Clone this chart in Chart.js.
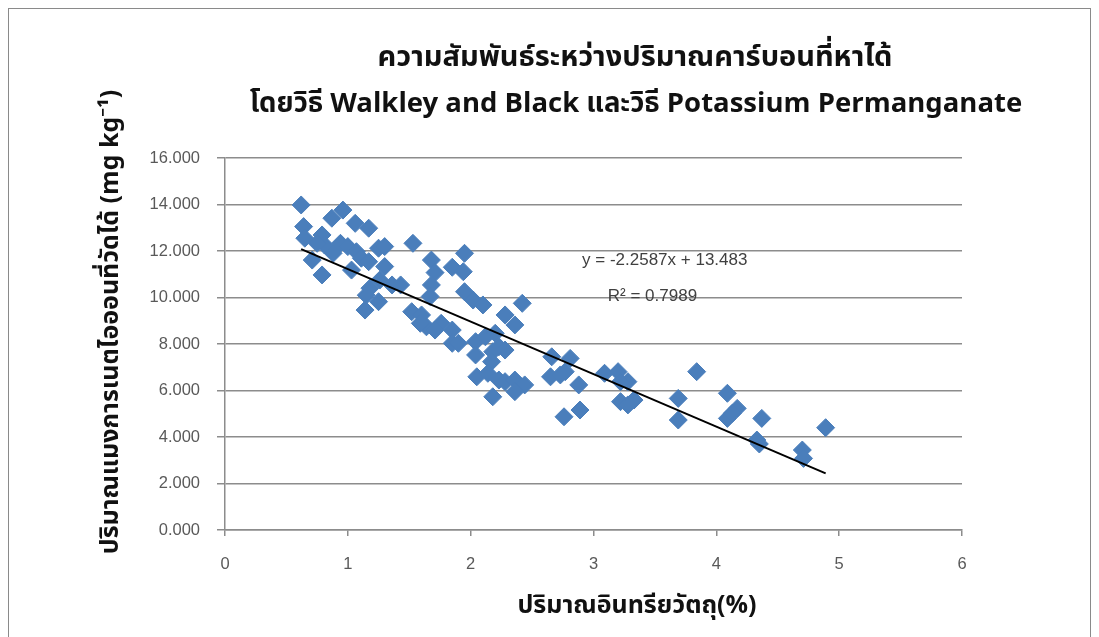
<!DOCTYPE html>
<html>
<head>
<meta charset="utf-8">
<title>Walkley and Black vs Potassium Permanganate</title>
<script src="https://cdn.jsdelivr.net/npm/chart.js@4.4.1/dist/chart.umd.min.js"></script>
<style>
  html, body { margin: 0; padding: 0; background: #ffffff; overflow: hidden; }
  #wrap { position: relative; width: 1099px; height: 637px; }
  #frame { position: absolute; left: 8px; top: 8px; width: 1083px; height: 660px;
           border: 1px solid #8a8a8a; box-sizing: border-box; }
  #chart { position: absolute; left: 0; top: 0; }
</style>
</head>
<body>
<div id="wrap">
  <div id="frame"></div>
  <canvas id="chart" width="1099" height="637"></canvas>
</div>
<script>
// Organic matter (%) of each soil sample
const organicMatter = [
  0.62, 0.96, 0.87, 1.06, 1.17, 0.64, 0.65, 0.79, 0.81, 0.75,
  0.94, 1.00, 0.88, 0.71, 0.79, 1.07, 1.11, 1.25, 1.30, 1.17,
  1.03, 1.30, 1.26, 1.18, 1.36, 1.15, 1.25, 1.14, 1.53, 1.95,
  1.68, 1.85, 1.94, 1.71, 1.43, 1.68, 1.67, 1.95, 2.02, 2.10,
  2.28, 1.52, 1.60, 1.64, 1.59, 1.76, 1.71, 1.85, 1.85, 1.90,
  2.04, 2.12, 2.20, 2.23, 2.04, 2.28, 2.42, 2.36, 2.18, 2.17,
  2.05, 2.14, 2.23, 2.28, 2.36, 2.44, 2.36, 2.18, 2.66, 2.65,
  2.77, 2.76, 2.81, 2.73, 2.88, 3.09, 3.20, 3.28, 3.22, 3.84,
  3.22, 3.28, 3.33, 3.69, 3.69, 2.89, 4.09, 4.17, 4.09, 4.13,
  4.37, 4.33, 4.35, 4.70, 4.71, 4.89
];

// Permanganate-oxidizable carbon measured for the same samples (mg kg-1)
const permanganateCarbon = [
  13.98, 13.76, 13.41, 13.19, 12.98, 13.05, 12.55, 12.69, 12.26, 12.33,
  12.33, 12.19, 11.90, 11.61, 10.97, 11.97, 11.69, 12.12, 12.19, 11.54,
  11.18, 11.33, 10.75, 10.40, 10.54, 10.10, 9.82, 9.46, 12.33, 11.90,
  11.61, 11.30, 11.11, 11.07, 10.54, 10.54, 10.04, 10.25, 9.89, 9.68,
  9.25, 9.39, 9.25, 8.74, 8.89, 8.89, 8.60, 8.60, 8.03, 8.03,
  8.10, 8.31, 8.46, 7.88, 7.53, 7.74, 9.75, 8.82, 7.67, 7.24,
  6.59, 6.74, 6.45, 6.38, 6.45, 6.24, 5.95, 5.73, 7.45, 6.59,
  6.81, 4.87, 7.38, 6.67, 6.24, 6.74, 6.81, 6.38, 6.38, 6.81,
  5.52, 5.38, 5.59, 5.66, 4.73, 5.16, 5.88, 5.23, 4.80, 5.02,
  4.80, 3.87, 3.70, 3.44, 3.08, 4.40
];

// Linear trend reported for the relationship
const trendSlope = -2.2587;
const trendIntercept = 13.483;
const trendRSquared = 0.7989;

// Axis ticks
const xTickValues = [0, 1, 2, 3, 4, 5, 6];
const yTickValues = [0, 2, 4, 6, 8, 10, 12, 14, 16];

// Texts
const titleLines = [
  'ความสัมพันธ์ระหว่างปริมาณคาร์บอนที่หาได้',
  'โดยวิธี Walkley and Black และวิธี Potassium Permanganate'
];
const xAxisTitle = 'ปริมาณอินทรียวัตถุ(%)';
const yAxisTitle = 'ปริมาณแมงการเนตไอออนที่วัดได้ (mg kg⁻¹)';
const equationText = 'y = ' + trendSlope + 'x + ' + trendIntercept;
const rSquaredText = 'R² = ' + trendRSquared;

const points = organicMatter.map((x, i) => ({ x: x, y: permanganateCarbon[i] }));
const xMin = Math.min(...organicMatter);
const xMax = Math.max(...organicMatter);
const trendPoints = [xMin, xMax].map(x => ({ x: x, y: trendSlope * x + trendIntercept }));

const THAI_FONT = '"Noto Sans Thai", "Noto Sans", "DejaVu Sans", sans-serif';
const TICK_FONT = '"Liberation Sans", Arial, sans-serif';
const GRID = '#8c8c8c';

// Titles, axis titles and regression labels
const captions = {
  id: 'captions',
  afterDraw(chart) {
    const ctx = chart.ctx;
    const xs = chart.scales.x, ys = chart.scales.y;
    ctx.save();
    ctx.fillStyle = '#111111';
    ctx.textAlign = 'center';
    ctx.textBaseline = 'middle';
    ctx.font = 'bold 29px ' + THAI_FONT;
    ctx.fillText(titleLines[0], 635, 60);
    ctx.font = 'bold 27.5px ' + THAI_FONT;
    ctx.fillText(titleLines[1], 636, 106);

    ctx.font = 'bold 25px ' + THAI_FONT;
    ctx.fillText(xAxisTitle, 637, 608);

    ctx.save();
    ctx.translate(113, 322);
    ctx.rotate(-Math.PI / 2);
    ctx.fillText(yAxisTitle, 0, 0);
    ctx.restore();

    ctx.fillStyle = '#404040';
    ctx.font = '17px ' + TICK_FONT;
    ctx.fillText(equationText, xs.getPixelForValue(3.58), ys.getPixelForValue(11.6));
    ctx.fillText(rSquaredText, xs.getPixelForValue(3.48), ys.getPixelForValue(10.06));
    ctx.restore();
  }
};

new Chart(document.getElementById('chart'), {
  type: 'scatter',
  data: {
    datasets: [
      {
        type: 'line',
        label: 'Linear',
        data: trendPoints,
        borderColor: '#000000',
        borderWidth: 2,
        pointRadius: 0,
        fill: false,
        order: 0
      },
      {
        label: 'Samples',
        data: points,
        pointStyle: 'rectRot',
        pointRadius: 9,
        pointHoverRadius: 9,
        backgroundColor: '#4a7ebb',
        borderColor: '#4a7ebb',
        borderWidth: 1,
        order: 1
      }
    ]
  },
  options: {
    responsive: false,
    animation: false,
    events: [],
    layout: { padding: { left: 0, right: 137, top: 158, bottom: 0 } },
    plugins: {
      legend: { display: false },
      tooltip: { enabled: false },
      title: { display: false }
    },
    scales: {
      x: {
        type: 'linear',
        min: 0,
        max: 6,
        afterFit(scale) { scale.height = 107; },
        afterBuildTicks(scale) { scale.ticks = xTickValues.map(v => ({ value: v })); },
        ticks: {
          color: '#595959',
          font: { family: TICK_FONT, size: 16.5 },
          padding: 19,
          callback: v => String(v)
        },
        grid: { drawOnChartArea: false, drawTicks: true, tickLength: 6, color: GRID, lineWidth: 1.5 },
        border: { display: true, color: GRID, width: 1.5 }
      },
      y: {
        type: 'linear',
        min: 0,
        max: 16,
        afterFit(scale) { scale.width = 225; },
        afterBuildTicks(scale) { scale.ticks = yTickValues.map(v => ({ value: v })); },
        ticks: {
          color: '#595959',
          font: { family: TICK_FONT, size: 16.5 },
          padding: 17,
          callback: v => Number(v).toFixed(3)
        },
        grid: { color: GRID, lineWidth: 1.5, tickLength: 8 },
        border: { display: true, color: GRID, width: 1.5 }
      }
    }
  },
  plugins: [captions]
});
</script>
</body>
</html>
